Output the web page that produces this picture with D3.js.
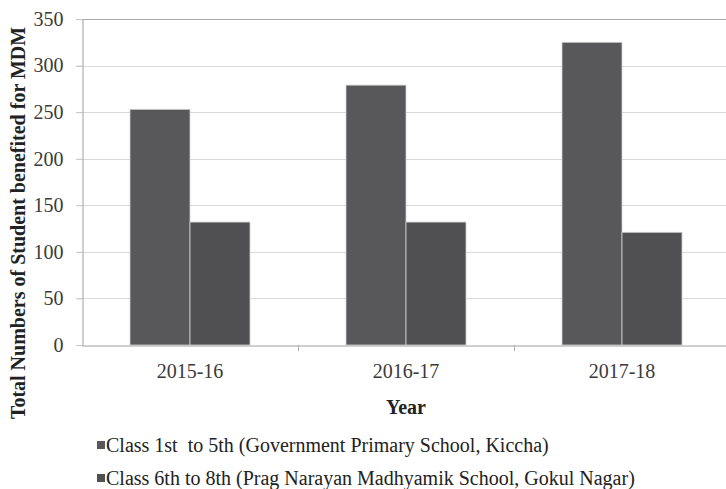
<!DOCTYPE html>
<html lang="en">
<head>
<meta charset="UTF-8">
<title>MDM Students</title>
<script src="https://d3js.org/d3.v7.min.js"></script>
<style>
  body { margin: 0; background: #fff; }
  svg text { font-family: "Liberation Serif", "DejaVu Serif", serif; }
</style>
</head>
<body>
<div id="chart"></div>
<script>
// data
const years = ["2015-16", "2016-17", "2017-18"];
const seriesNames = [
  "Class 1st  to 5th (Government Primary School, Kiccha)",
  "Class 6th to 8th (Prag Narayan Madhyamik School, Gokul Nagar)"
];
const primaryValues = [253, 279, 325];
const middleValues = [132, 132, 121];
const yTicks = [0, 50, 100, 150, 200, 250, 300, 350];
const barColors = ["#58585a", "#505052"];

const W = 726, H = 489;
const svg = d3.select("#chart").append("svg")
  .attr("width", W).attr("height", H);

const x = d3.scaleBand().domain(years).range([82, 730]).padding(0);
const y = d3.scaleLinear().domain([0, 350]).range([345, 19]);

// gridlines
svg.append("g")
  .selectAll("line")
  .data(yTicks.filter(d => d > 0))
  .join("line")
  .attr("x1", 76).attr("x2", W)
  .attr("y1", d => Math.round(y(d)) + 0.5).attr("y2", d => Math.round(y(d)) + 0.5)
  .attr("stroke", d => d === 350 ? "#aaaaaa" : "#d9d9d9")
  .attr("stroke-width", 1.2);

// y axis
const yAxis = svg.append("g")
  .attr("transform", "translate(82.5,0)")
  .call(d3.axisLeft(y).tickValues(yTicks).tickSize(6).tickPadding(13));
yAxis.select(".domain").attr("stroke", "#a0a0a0");
yAxis.selectAll(".tick line").attr("stroke", "#c8c8c8");
yAxis.selectAll(".tick text")
  .attr("font-family", "Liberation Serif, serif")
  .attr("font-size", 20).attr("fill", "#3a3a3a");

// bars
const inner = d3.scaleBand().domain([0, 1]).range([48, x.bandwidth() - 48]).padding(0);
const rows = years.map((yr, i) => ({ year: yr, vals: [primaryValues[i], middleValues[i]] }));

const groups = svg.append("g").selectAll("g")
  .data(rows).join("g")
  .attr("transform", d => `translate(${x(d.year)},0)`);

groups.selectAll("rect")
  .data(d => d.vals.map((v, k) => ({ v, k })))
  .join("rect")
  .attr("x", d => inner(d.k))
  .attr("width", inner.bandwidth())
  .attr("y", d => y(d.v))
  .attr("height", d => y(0) - y(d.v))
  .attr("fill", d => barColors[d.k])
  .attr("stroke", "#d0d0d0")
  .attr("stroke-width", 0.8);

// x axis
const xAxis = svg.append("g")
  .attr("transform", `translate(0,${y(0) + 0.5})`)
  .call(d3.axisBottom(x).tickSize(0).tickPadding(18));
xAxis.select(".domain").attr("stroke", "#a0a0a0");
xAxis.selectAll(".tick text")
  .attr("font-family", "Liberation Serif, serif")
  .attr("font-size", 20).attr("fill", "#3a3a3a");
// category separator ticks
svg.append("g").selectAll("line")
  .data(years.slice(1))
  .join("line")
  .attr("x1", d => Math.round(x(d)) + 0.5).attr("x2", d => Math.round(x(d)) + 0.5)
  .attr("y1", y(0)).attr("y2", y(0) + 6)
  .attr("stroke", "#b0b0b0");

// axis titles
svg.append("text")
  .attr("x", 406).attr("y", 414)
  .attr("text-anchor", "middle")
  .style("font-size", "20px").style("font-weight", "bold").attr("fill", "#222")
  .text("Year");

svg.append("text")
  .attr("transform", "translate(25,223) rotate(-90)")
  .attr("text-anchor", "middle")
  .style("font-size", "20px").style("font-weight", "bold").attr("fill", "#222")
  .text("Total Numbers of Student benefited for MDM");

// legend
const legend = svg.append("g");
seriesNames.forEach((name, i) => {
  const ly = 452 + i * 33;
  legend.append("rect")
    .attr("x", 97).attr("y", ly - 11)
    .attr("width", 8).attr("height", 8)
    .attr("fill", barColors[i]);
  legend.append("text")
    .attr("x", 106).attr("y", ly)
    .attr("xml:space", "preserve")
    .style("white-space", "pre")
    .style("font-size", "20px").attr("fill", "#222")
    .text(name);
});
</script>
</body>
</html>
